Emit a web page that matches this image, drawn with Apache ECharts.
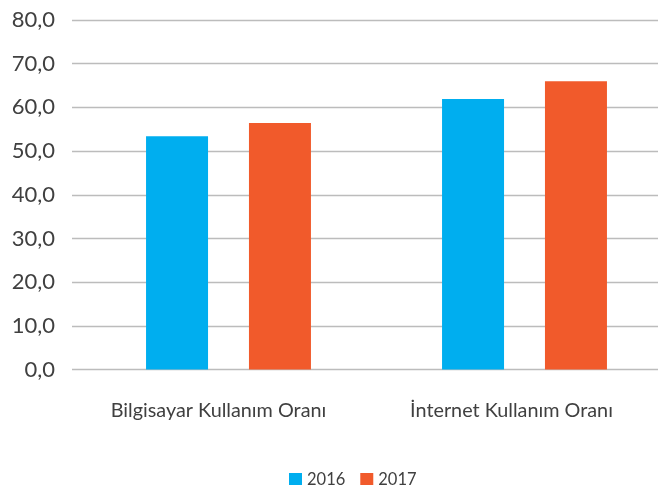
<!DOCTYPE html>
<html><head><meta charset="utf-8">
<script src="https://cdn.jsdelivr.net/npm/echarts@6/dist/echarts.min.js"></script>
<style>html,body{margin:0;padding:0;background:#fff}#c{width:658px;height:485px}</style>
</head><body><div id="c"></div>
<script>
const categories = ['Bilgisayar Kullanım Oranı', 'İnternet Kullanım Oranı'];
const seriesNames = ['2016', '2017'];
const values2016 = [53.4, 61.9];
const values2017 = [56.4, 66.0];
const yTicks = [0, 10, 20, 30, 40, 50, 60, 70, 80];

const FONT = 'Lato';
const chart = echarts.init(document.getElementById('c'), null, {renderer: 'canvas'});
chart.setOption({
  animation: false,
  textStyle: {fontFamily: FONT},
  legend: {
    data: seriesNames, top: 466, left: 284, padding: 5, itemWidth: 13, itemHeight: 13, itemGap: 15,
    icon: 'rect', textStyle: {fontSize: 16.5, color: '#404040', fontFamily: FONT}
  },
  grid: [
    {left: 72, right: 0, top: 20, bottom: 115.5, containLabel: false, outerBoundsMode: 'none'},
    {left: 80.5, width: 592, top: 20, bottom: 115.5, containLabel: false, outerBoundsMode: 'none'}
  ],
  xAxis: [
    {gridIndex: 0, type: 'category', data: categories,
     axisLine: {show: false}, axisTick: {show: false},
     axisLabel: {fontSize: 19.8, color: '#404040', margin: 31, fontFamily: FONT}},
    {gridIndex: 1, type: 'category', data: categories, show: false}
  ],
  yAxis: [
    {gridIndex: 0, type: 'value', min: yTicks[0], max: yTicks[yTicks.length-1], interval: 10,
     axisLine: {show: false}, axisTick: {show: false},
     splitLine: {lineStyle: {color: '#bcbcbc', width: 1.3}},
     axisLabel: {fontSize: 22, color: '#404040', margin: 17, fontFamily: FONT,
       formatter: v => v.toFixed(1).replace('.', ',')}},
    {gridIndex: 1, type: 'value', min: yTicks[0], max: yTicks[yTicks.length-1], interval: 10, show: false}
  ],
  series: [
    {name: seriesNames[0], type: 'bar', xAxisIndex: 1, yAxisIndex: 1, data: values2016,
     barWidth: 62, barGap: '66%', itemStyle: {color: '#00AEEF'}},
    {name: seriesNames[1], type: 'bar', xAxisIndex: 1, yAxisIndex: 1, data: values2017,
     barWidth: 62, barGap: '66%', itemStyle: {color: '#F15A2B'}}
  ]
});
</script></body></html>
